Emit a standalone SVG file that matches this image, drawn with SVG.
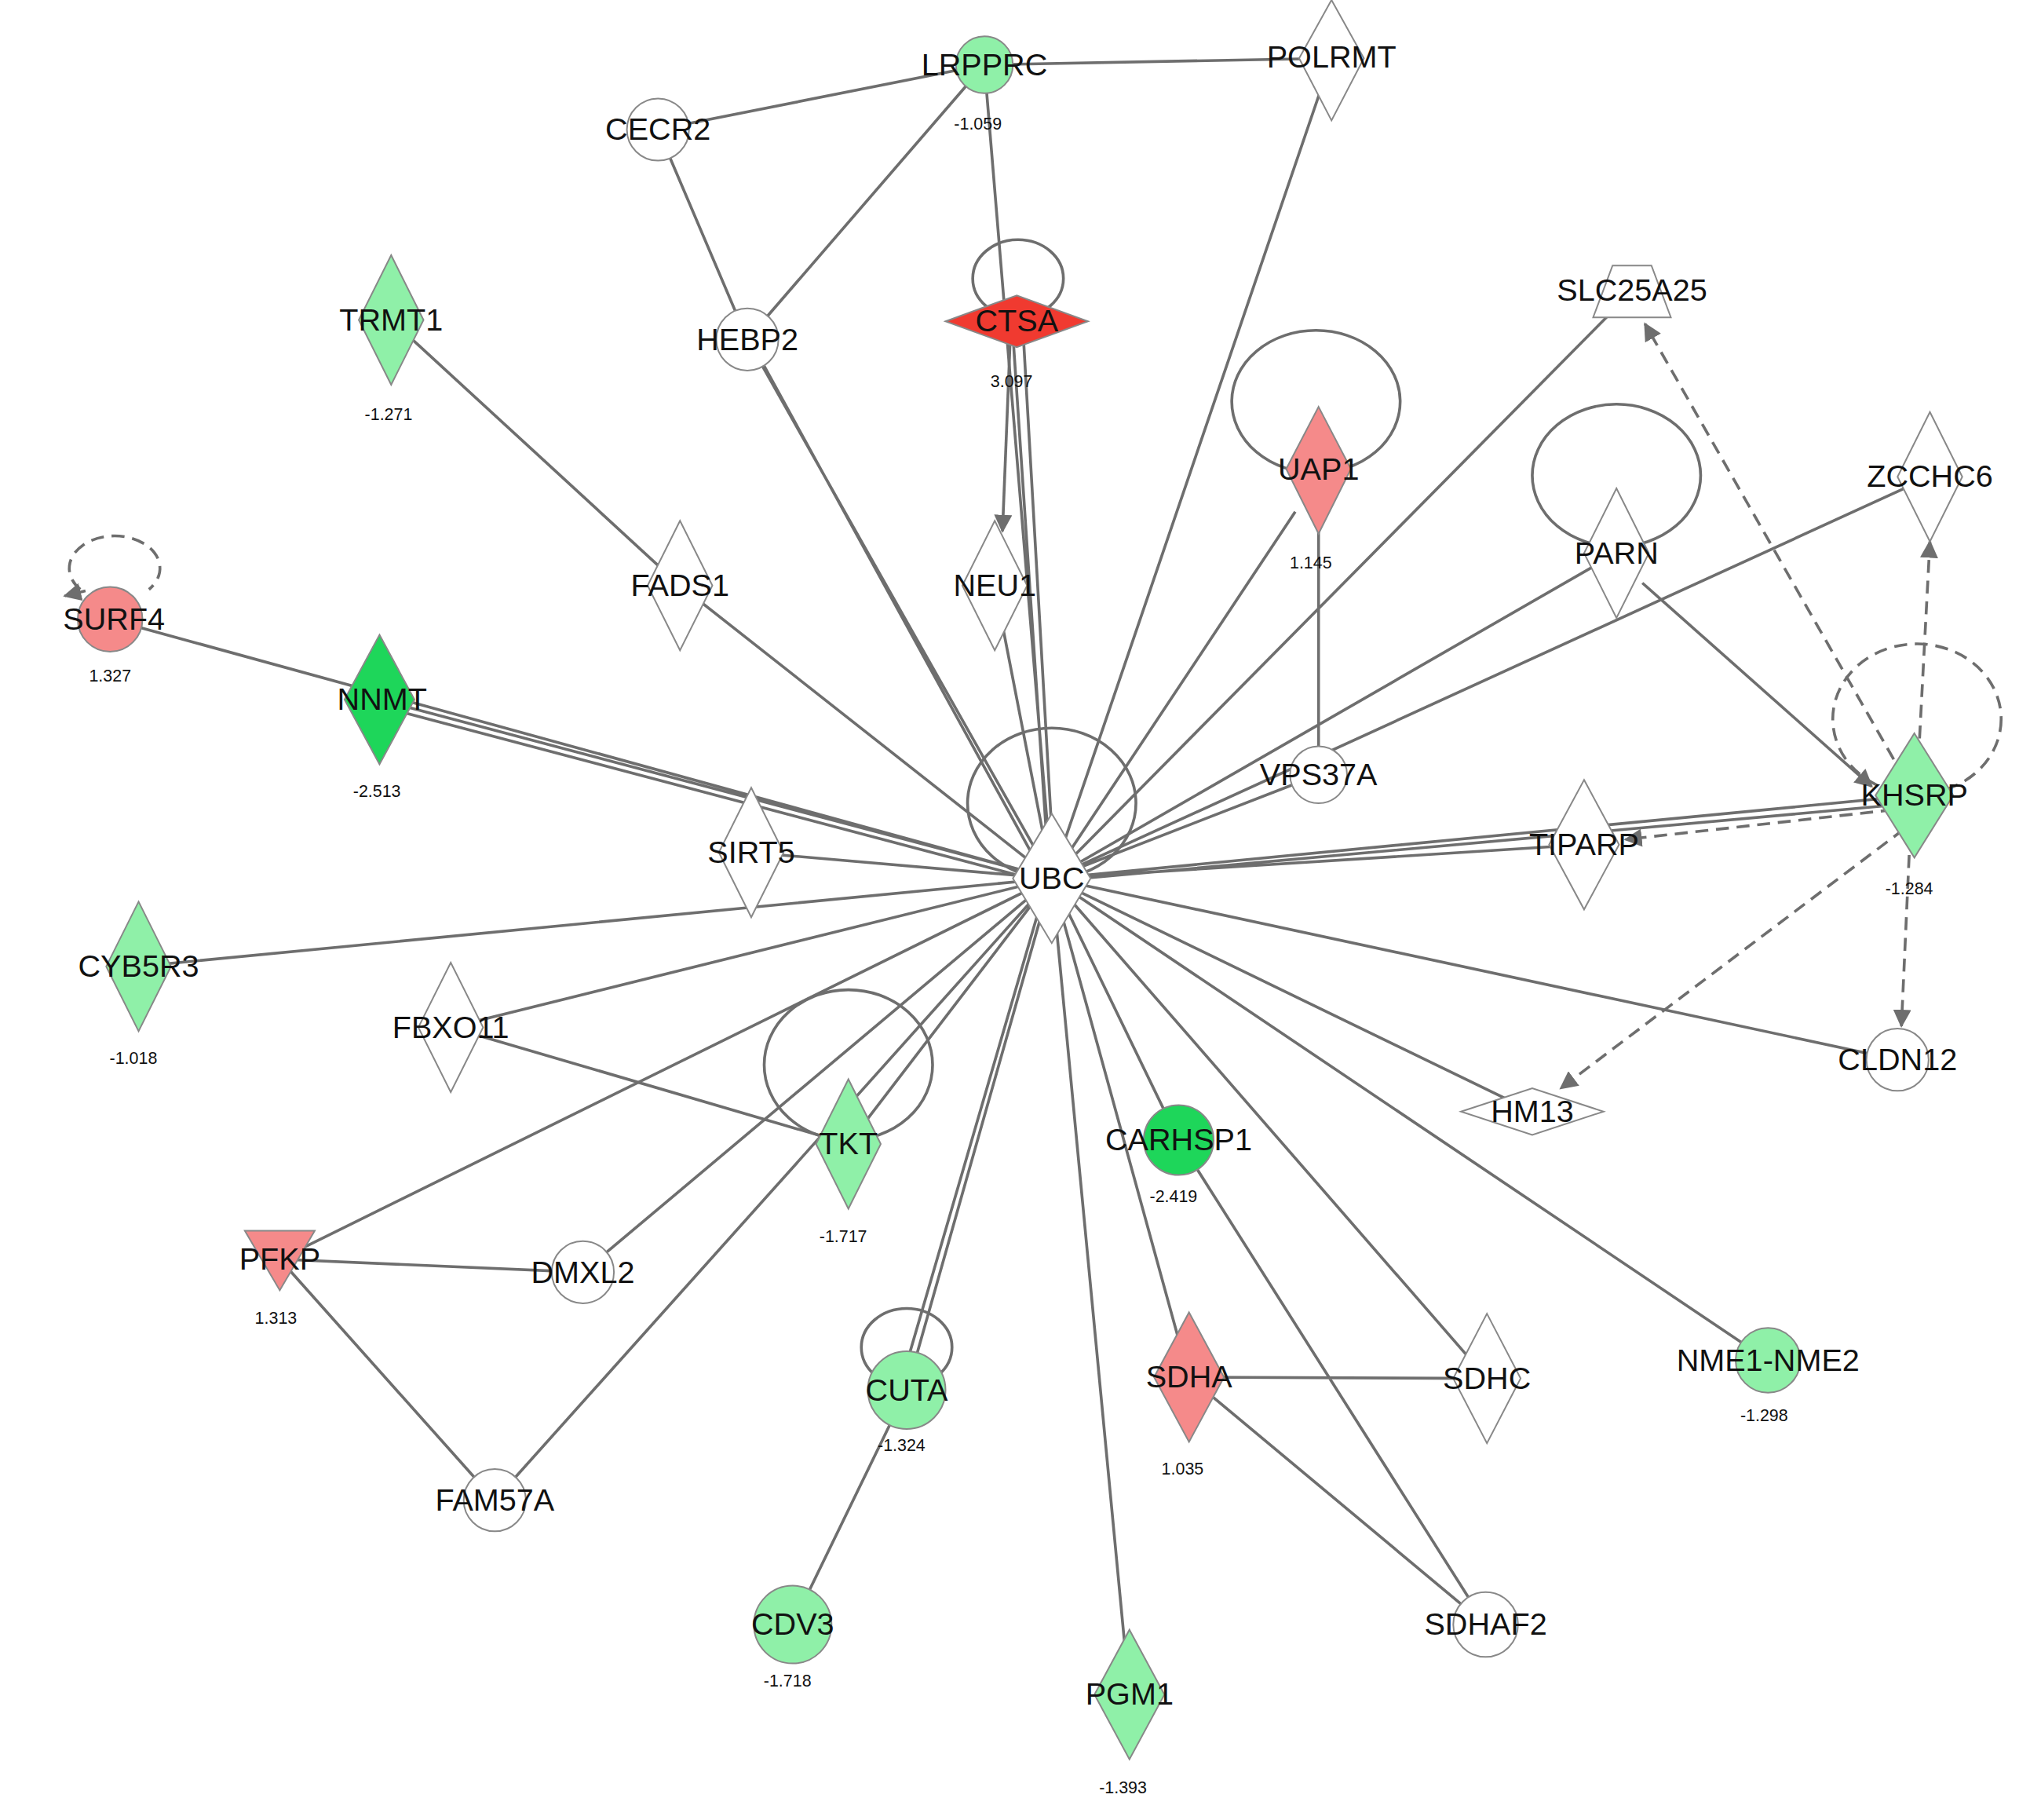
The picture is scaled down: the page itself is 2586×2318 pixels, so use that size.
<svg xmlns="http://www.w3.org/2000/svg" width="2586" height="2318" viewBox="0 0 2586 2318">
<defs>
<marker id="a" viewBox="0 0 10 10" refX="9" refY="5" markerWidth="14" markerHeight="14" orient="auto" markerUnits="userSpaceOnUse"><path d="M0,0L10,5L0,10z" fill="#6e6e6e"/></marker>
<style>
.e{stroke:#6e6e6e;stroke-width:2.2;fill:none}
.d{stroke:#6e6e6e;stroke-width:2.2;fill:none;stroke-dasharray:10 6}
.n{stroke:#888;stroke-width:1.2}
.w{fill:#fff}.g{fill:#8ff0a8}.dg{fill:#1ed65a}.r{fill:#f58a8a}.rr{fill:#f03a30}
.t{font-family:"Liberation Sans",Arial,sans-serif;font-size:24px;fill:#111;text-anchor:middle}
.v{font-family:"Liberation Sans",Arial,sans-serif;font-size:13px;fill:#111;text-anchor:middle}
</style>
</defs>
<rect width="2586" height="2318" fill="#fff"/>
<g transform="scale(1.65)">
<g id="edges">
<path class="e" d="M760,50L1028,45M508,100L760,50M508,100L577,262L812,678M760,50L577,262M582,268L806,676M1028,45L812,678M760,50L812,678M782,258L810,676M790,258L814,676"/>
<path class="e" d="M780,260L774,410" marker-end="url(#a)"/>
<path class="e" d="M302,247L525,452L812,678M768,452L812,678M85,478L812,678M293,540L812,678M293,545L810,682M580,658L812,678M107,746L812,678M348,793L812,678M348,793L655,883L812,678M216,972L812,678M216,972L450,982L812,678M216,972L382,1158L812,678M700,1073L812,678M694,1073L808,682M612,1254L700,1073M872,1308L812,678M918,1063L812,678M918,1063L1148,1064L812,678M918,1063L1147,1254L910,880L812,678M1365,1050L812,678M1183,858L812,678M1465,818L812,678M1223,652L812,678M1478,614L812,678M1478,620L814,680M1490,368L812,678M1248,427L812,678M1260,225L812,678M1018,362L1018,598L812,678M1000,395L812,678"/>
<path class="e" d="M1268,450L1445,607" marker-end="url(#a)"/>
<path class="d" d="M1470,600L1270,250" marker-end="url(#a)"/>
<path class="d" d="M1462,625L1255,648" marker-end="url(#a)"/>
<path class="d" d="M1470,640L1205,840" marker-end="url(#a)"/>
<path class="d" d="M1474,660L1468,792" marker-end="url(#a)"/>
<path class="d" d="M1482,570L1490,418" marker-end="url(#a)"/>
<ellipse class="e" cx="786" cy="215" rx="35" ry="30"/>
<ellipse class="e" cx="1016" cy="310" rx="65" ry="55"/>
<ellipse class="e" cx="1248" cy="367" rx="65" ry="55"/>
<ellipse class="e" cx="812" cy="620" rx="65" ry="58"/>
<ellipse class="e" cx="655" cy="822" rx="65" ry="58"/>
<ellipse class="e" cx="700" cy="1040" rx="35" ry="30"/>
<ellipse class="d" cx="1480" cy="555" rx="65" ry="58"/>
<path class="d" d="M62,455A35,25 0 1 1 115,455" />
<path class="d" d="M66,456L50,460" marker-end="url(#a)"/>
</g>
<g id="LRPPRC"><circle class="n g" cx="760" cy="50" r="22"/><text class="t" x="760" y="58">LRPPRC</text><text class="v" x="755" y="100">-1.059</text></g>
<g id="POLRMT"><path class="n w" d="M1028,0L1053,45L1028,93L1003,45z"/><text class="t" x="1028" y="52">POLRMT</text></g>
<g id="CECR2"><circle class="n w" cx="508" cy="100" r="24"/><text class="t" x="508" y="108">CECR2</text></g>
<g id="HEBP2"><circle class="n w" cx="577" cy="262" r="24"/><text class="t" x="577" y="270">HEBP2</text></g>
<g id="CTSA"><path class="n rr" d="M730,248L785,228L840,248L785,268z"/><text class="t" x="785" y="256">CTSA</text><text class="v" x="781" y="299">3.097</text></g>
<g id="TRMT1"><path class="n g" d="M302,197L327,247L302,297L277,247z"/><text class="t" x="302" y="255">TRMT1</text><text class="v" x="300" y="324">-1.271</text></g>
<g id="SLC25A25"><path class="n w" d="M1245,205L1275,205L1290,245L1230,245z"/><text class="t" x="1260" y="232">SLC25A25</text></g>
<g id="UAP1"><path class="n r" d="M1018,314L1043,362L1018,412L993,362z"/><text class="t" x="1018" y="370">UAP1</text><text class="v" x="1012" y="439">1.145</text></g>
<g id="ZCCHC6"><path class="n w" d="M1490,318L1515,368L1490,418L1465,368z"/><text class="t" x="1490" y="376">ZCCHC6</text></g>
<g id="PARN"><path class="n w" d="M1248,377L1273,427L1248,477L1223,427z"/><text class="t" x="1248" y="435">PARN</text></g>
<g id="FADS1"><path class="n w" d="M525,402L550,452L525,502L500,452z"/><text class="t" x="525" y="460">FADS1</text></g>
<g id="NEU1"><path class="n w" d="M768,402L793,452L768,502L743,452z"/><text class="t" x="768" y="460">NEU1</text></g>
<g id="SURF4"><circle class="n r" cx="85" cy="478" r="25"/><text class="t" x="88" y="486">SURF4</text><text class="v" x="85" y="526">1.327</text></g>
<g id="NNMT"><path class="n dg" d="M293,490L320,540L293,590L266,540z"/><text class="t" x="295" y="548">NNMT</text><text class="v" x="291" y="615">-2.513</text></g>
<g id="VPS37A"><circle class="n w" cx="1018" cy="598" r="22"/><text class="t" x="1018" y="606">VPS37A</text></g>
<g id="KHSRP"><path class="n g" d="M1478,566L1508,614L1478,662L1448,614z"/><text class="t" x="1478" y="622">KHSRP</text><text class="v" x="1474" y="690">-1.284</text></g>
<g id="SIRT5"><path class="n w" d="M580,608L605,658L580,708L555,658z"/><text class="t" x="580" y="666">SIRT5</text></g>
<g id="UBC"><path class="n w" d="M812,628L842,678L812,728L782,678z"/><text class="t" x="812" y="686">UBC</text></g>
<g id="TIPARP"><path class="n w" d="M1223,602L1250,652L1223,702L1196,652z"/><text class="t" x="1223" y="660">TIPARP</text></g>
<g id="CYB5R3"><path class="n g" d="M107,696L132,746L107,796L82,746z"/><text class="t" x="107" y="754">CYB5R3</text><text class="v" x="103" y="821">-1.018</text></g>
<g id="FBXO11"><path class="n w" d="M348,743L373,793L348,843L323,793z"/><text class="t" x="348" y="801">FBXO11</text></g>
<g id="TKT"><path class="n g" d="M655,833L680,883L655,933L630,883z"/><text class="t" x="655" y="891">TKT</text><text class="v" x="651" y="959">-1.717</text></g>
<g id="CARHSP1"><circle class="n dg" cx="910" cy="880" r="27"/><text class="t" x="910" y="888">CARHSP1</text><text class="v" x="906" y="928">-2.419</text></g>
<g id="HM13"><path class="n w" d="M1128,858L1183,840L1238,858L1183,876z"/><text class="t" x="1183" y="866">HM13</text></g>
<g id="CLDN12"><circle class="n w" cx="1465" cy="818" r="24"/><text class="t" x="1465" y="826">CLDN12</text></g>
<g id="PFKP"><path class="n r" d="M189,950L243,950L216,996z"/><text class="t" x="216" y="980">PFKP</text><text class="v" x="213" y="1022">1.313</text></g>
<g id="DMXL2"><circle class="n w" cx="450" cy="982" r="24"/><text class="t" x="450" y="990">DMXL2</text></g>
<g id="CUTA"><circle class="n g" cx="700" cy="1073" r="30"/><text class="t" x="700" y="1081">CUTA</text><text class="v" x="696" y="1120">-1.324</text></g>
<g id="SDHA"><path class="n r" d="M918,1013L945,1063L918,1113L891,1063z"/><text class="t" x="918" y="1071">SDHA</text><text class="v" x="913" y="1138">1.035</text></g>
<g id="SDHC"><path class="n w" d="M1148,1014L1174,1064L1148,1114L1122,1064z"/><text class="t" x="1148" y="1072">SDHC</text></g>
<g id="NME1-NME2"><circle class="n g" cx="1365" cy="1050" r="25"/><text class="t" x="1365" y="1058">NME1-NME2</text><text class="v" x="1362" y="1097">-1.298</text></g>
<g id="FAM57A"><circle class="n w" cx="382" cy="1158" r="24"/><text class="t" x="382" y="1166">FAM57A</text></g>
<g id="CDV3"><circle class="n g" cx="612" cy="1254" r="30"/><text class="t" x="612" y="1262">CDV3</text><text class="v" x="608" y="1302">-1.718</text></g>
<g id="SDHAF2"><circle class="n w" cx="1147" cy="1254" r="25"/><text class="t" x="1147" y="1262">SDHAF2</text></g>
<g id="PGM1"><path class="n g" d="M872,1258L899,1308L872,1358L845,1308z"/><text class="t" x="872" y="1316">PGM1</text><text class="v" x="867" y="1384">-1.393</text></g>
</g>
</svg>
